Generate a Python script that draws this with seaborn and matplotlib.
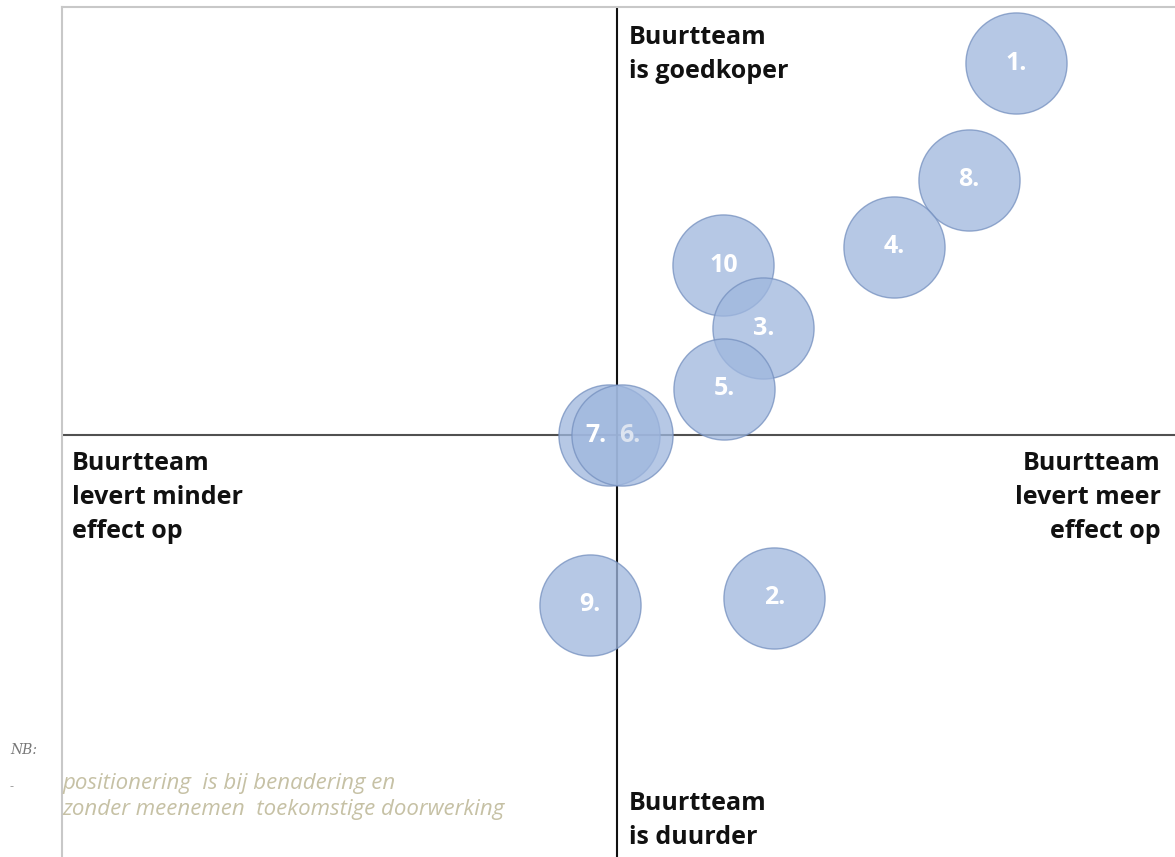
import numpy as np
import pandas as pd
import matplotlib
matplotlib.use("Agg")
import matplotlib.pyplot as plt
import seaborn as sns

# bubble labels and approximate positions (x: effect, y: cost advantage)
labels = ["1.", "8.", "4.", "10", "3.", "5.", "7.", "6.", "9.", "2."]
x_effect = [3.60, 3.17, 2.50, 0.96, 1.32, 0.97, -0.07, 0.05, -0.24, 1.42]
y_cost = [4.38, 3.01, 2.22, 2.00, 1.26, 0.55, 0.0, 0.0, -1.99, -1.91]

quadrant_top = "Buurtteam\nis goedkoper"
quadrant_bottom = "Buurtteam\nis duurder"
quadrant_left = "Buurtteam\nlevert minder\neffect op"
quadrant_right = "Buurtteam\nlevert meer\neffect op"
note_head = "NB:"
note_lines = ["positionering  is bij benadering en",
              "zonder meenemen  toekomstige doorwerking"]

df = pd.DataFrame({"label": labels, "x": x_effect, "y": y_cost})

sns.set_style("white")
plt.rcParams['font.family'] = ['Open Sans', 'DejaVu Sans']

fig = plt.figure(figsize=(11.75, 8.57), dpi=100)
ax = fig.add_axes([62 / 1175, 0, 1 - 62 / 1175, 1 - 7 / 857])

ax.set_xlim(-5.0, 5.03)
ax.set_ylim(-4.96, 5.04)

# quadrant axes
ax.axhline(0, color="#505050", lw=1.5, zorder=1)
ax.axvline(0, color="#111111", lw=1.5, zorder=1)

sns.scatterplot(data=df, x="x", y="y", s=5300, color="#9fb7de", alpha=0.76,
                edgecolor="#7590bf", linewidth=1.0, ax=ax, zorder=2, legend=False)

for _, row in df.iterrows():
    dx = -0.12 if row["label"] == "7." else (0.07 if row["label"] == "6." else 0)
    col = "#dde4f0" if row["label"] == "6." else "white"
    ax.text(row["x"] + dx, row["y"], row["label"], color=col, fontsize=18,
            fontweight="bold", ha="center", va="center", zorder=3)

qkw = dict(fontsize=18, fontweight="bold", color="#111111", linespacing=1.47,
           transform=ax.transAxes)
ax.text(0.5095, 0.979, quadrant_top, ha="left", va="top", **qkw)
ax.text(0.5095, 0.008, quadrant_bottom, ha="left", va="bottom", **qkw)
ax.text(0.009, 0.4776, quadrant_left, ha="left", va="top", **qkw)
ax.text(0.987, 0.4776, quadrant_right, ha="right", va="top", **qkw)

fig.text(10 / 1175, 1 - 750 / 857, note_head, fontsize=10, style="italic",
         color="#777777", family="DejaVu Serif", va="center")
fig.text(10 / 1175, 1 - 787 / 857, "-", fontsize=9, color="#999999", va="center")
for i, line in enumerate(note_lines):
    fig.text(62 / 1175, 1 - (783 + 27 * i) / 857, line, fontsize=16,
             style="italic", color="#c6c1a5", va="center")

ax.set_xticks([])
ax.set_yticks([])
ax.set_xlabel("")
ax.set_ylabel("")
for side in ["right", "bottom"]:
    ax.spines[side].set_visible(False)
for side in ["top", "left"]:
    ax.spines[side].set_color("#c8c8c8")
    ax.spines[side].set_linewidth(1.5)

fig.savefig("out.png", dpi=100)
